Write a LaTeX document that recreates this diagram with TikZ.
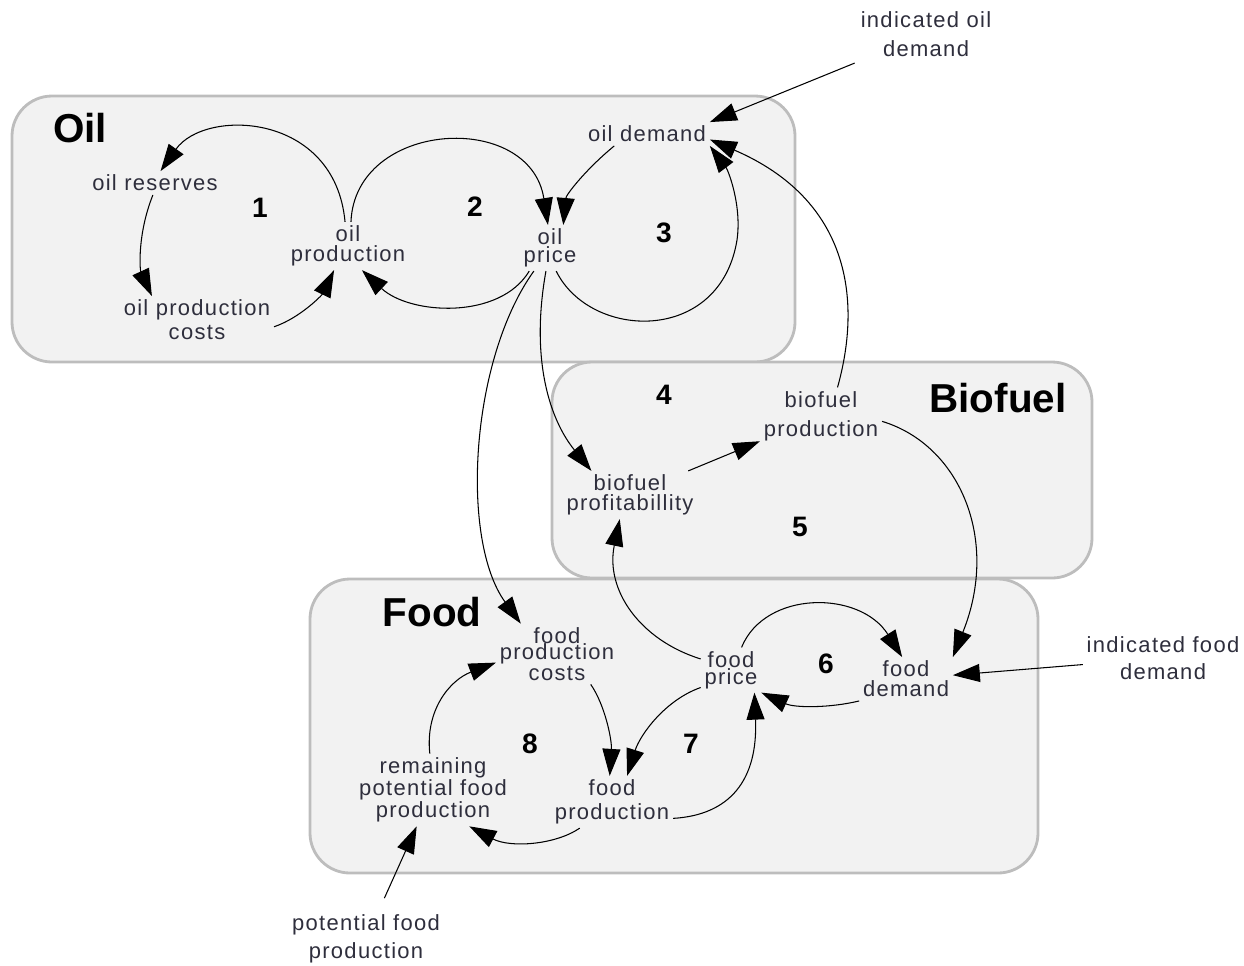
\documentclass[tikz,border=0pt]{standalone}
\usepackage{fontspec}
\setmainfont{Liberation Sans}
\newfontfamily\varfont[LetterSpace=6]{Liberation Sans}
\usetikzlibrary{arrows.meta}
\definecolor{txt}{HTML}{2E2E3C}
\definecolor{frame}{HTML}{BDBDBD}
\definecolor{sheet}{HTML}{F2F2F2}
\tikzset{
  cvar/.style={font=\varfont\fontsize{12.5}{#1}\selectfont, align=center, inner sep=2pt, text=txt},
  cvar/.default=11.4pt,
  sector/.style={draw=frame, line width=1.6pt, fill=sheet, rounded corners=0.8cm},
  sectorname/.style={font=\bfseries\fontsize{23}{23}\selectfont},
  loopno/.style={font=\bfseries\fontsize{16}{16}\selectfont},
  link/.style={-{Triangle[length=0.54cm,width=0.36cm]}, line width=0.6pt},
}
\begin{document}
\begin{tikzpicture}[x=0.02cm, y=-0.02cm]
      \useasboundingbox (0,0) rectangle (1244,965);
      \draw[sector] (12,96) rectangle (795,362);
      \draw[sector] (552,362) rectangle (1092,578);
      \draw[sector] (310,579) rectangle (1038,873);
      \node[sectorname] (oil) at (80,128) {Oil};
      \node[sectorname] (biofuel) at (998,398) {Biofuel};
      \node[sectorname] (food) at (432,612) {Food};
      \node[loopno] (l1) at (260,208) {1};
      \node[loopno] (l2) at (475,207) {2};
      \node[loopno] (l3) at (664,233) {3};
      \node[loopno] (l4) at (664,395) {4};
      \node[loopno] (l5) at (800,527) {5};
      \node[loopno] (l6) at (826,664) {6};
      \node[loopno] (l7) at (691,744) {7};
      \node[loopno] (l8) at (530,744) {8};
      \node[cvar] (res) at (155,183) {oil reserves};
      \node[cvar=13.7pt] (opc) at (197,320) {oil production\\costs};
      \node[cvar] (oprod) at (348,246) {oil\\production};
      \node[cvar=9.1pt] (oprice) at (550,248) {oil\\price};
      \node[cvar] (odem) at (647,134) {oil demand};
      \node[cvar=16.5pt] (iod) at (926,34) {indicated oil\\demand};
      \node[cvar=16.5pt] (bprod) at (821,416) {biofuel\\production};
      \node[cvar] (bprof) at (630,495) {biofuel\\profitabillity};
      \node[cvar=9.3pt] (fpc) at (557,654) {food\\production\\costs};
      \node[cvar=9.7pt] (fprice) at (731,670) {food\\price};
      \node[cvar] (fdem) at (906,679) {food\\demand};
      \node[cvar=15.4pt] (ifd) at (1163,658) {indicated food\\demand};
      \node[cvar] (rem) at (433,790) {remaining\\potential food\\production};
      \node[cvar=13.7pt] (fprod) at (612,802) {food\\production};
      \node[cvar=15.9pt] (pfp) at (366,939) {potential food\\production};
      \begin{scope}[link]
        \draw (oprod.97) .. controls (335,112) and (205,108) .. (res.65);
        \draw (res.-100) .. controls (137,235) and (140,270) .. (opc.152);
        \draw (opc.-5) .. controls (300,318) and (322,295) .. (oprod.-120);
        \draw (oprod.83) .. controls (355,120) and (530,110) .. (oprice.95);
        \draw (oprice.-132) .. controls (500,320) and (410,315) .. (oprod.-60);
        \draw (odem.-160) .. controls (585,170) and (566,195) .. (oprice.60);
        \draw (oprice.-75) .. controls (590,340) and (720,345) .. (737,240)
          .. controls (742,205) and (728,170) .. (odem.south east);
        \draw[shorten <=4pt] (iod) -- (odem.north east);
        \draw (bprod.60) .. controls (862,300) and (850,200) .. (odem.-5);
        \draw (oprice.-100) .. controls (530,360) and (550,420) .. (bprof.148);
        \draw (oprice.-125) .. controls (470,360) and (460,540) .. (fpc.140);
        \draw (bprof) -- (bprod);
        \draw (bprod.-5) .. controls (960,445) and (1000,540) .. (fdem.north east);
        \draw (fprice.160) .. controls (640,640) and (605,590) .. (bprof.-113);
        \draw (fprice.65) .. controls (765,590) and (860,590) .. (fdem.100);
        \draw (fdem.south west) .. controls (830,708) and (795,708) .. (fprice.south east);
        \draw (ifd) -- (fdem);
        \draw (fpc.-42) .. controls (605,705) and (612,740) .. (fprod.95);
        \draw (fprice.-150) .. controls (665,700) and (640,735) .. (fprod.60);
        \draw (fprod.-15) .. controls (730,815) and (758,780) .. (fprice.-44);
        \draw (fprod.-141) .. controls (555,845) and (510,848) .. (rem.-45);
        \draw (rem.95) .. controls (425,710) and (450,680) .. (fpc.-172);
        \draw[shorten <=8pt] (pfp) -- (rem);
      \end{scope}
    \end{tikzpicture}
\end{document}
